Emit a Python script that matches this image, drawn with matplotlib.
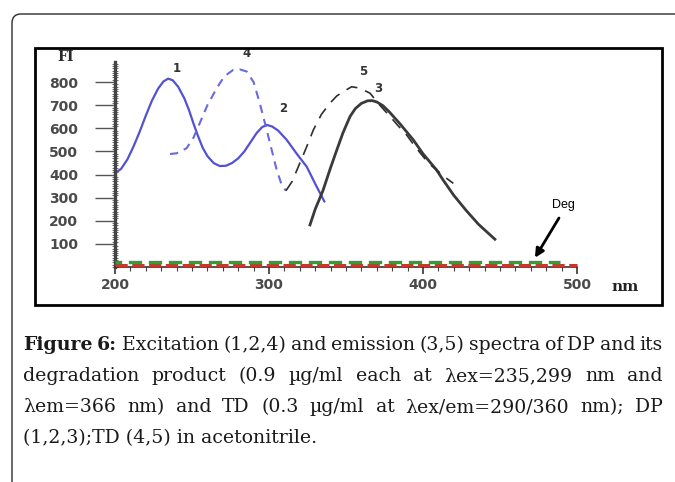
import matplotlib
matplotlib.use('Agg')
import matplotlib.pyplot as plt
from matplotlib.patches import FancyBboxPatch, Rectangle
from matplotlib.ticker import MultipleLocator, FixedLocator
from matplotlib.transforms import IdentityTransform

# ---------------- data ----------------
# 1,2: DP excitation (blue solid)
dp_ex_nm = [200, 204, 208, 212, 216, 220, 224, 228, 231.5, 234.5, 237.5, 241, 245,
            248, 251, 254, 257, 260, 264, 268, 272, 276, 280, 284, 288, 292, 295.5,
            298.5, 302, 306, 311.5, 318, 324.5, 330, 336]
dp_ex_fi = [405, 425, 465, 521, 585, 655, 720, 772, 803, 815, 808, 780, 730,
            680, 620, 565, 515, 480, 450, 437, 438, 450, 470, 500, 540, 580, 605,
            615, 608, 590, 550, 490, 434, 360, 283]
# 4: TD excitation (blue dashed)
td_ex_nm = [235.7, 240, 246.5, 251, 255, 260, 266, 271, 276.8, 281, 285.5, 290, 294,
            298.5, 302, 305, 308, 311]
td_ex_fi = [489, 492, 514, 560, 622, 700, 773, 825, 853, 855, 846, 800, 709,
            593, 500, 420, 360, 330]
# 3: DP emission (black solid)
dp_em_nm = [326.6, 330, 335, 340, 344, 348, 352.6, 356, 360, 364, 367, 370, 374, 378,
            385, 393.7, 400, 408.8, 413, 420, 428, 436, 446.7]
dp_em_fi = [182, 250, 330, 430, 506, 580, 651, 685, 708, 719, 720, 714, 698, 672,
            620, 550, 490, 420, 377, 310, 245, 185, 120]
# 5: TD emission (black dashed)
td_em_nm = [311, 315, 320, 324.5, 328.8, 334, 339.6, 344, 348.3, 353.7, 358, 361.3,
            365.6, 372, 378.6, 384, 389.4, 395, 400.2, 404, 408.8, 414, 419.7]
td_em_fi = [330, 370, 449, 521, 593, 660, 709, 740, 759, 780, 775, 766,
            752, 700, 651, 610, 571, 520, 477, 447, 420, 390, 362]
# degradation product (flat near baseline)
deg_ex_nm = [200, 489]
deg_ex_fi = [22, 22]
deg_em_nm = [200, 500]
deg_em_fi = [10, 10]

x_ticks = [200, 300, 400, 500]
y_ticks = [100, 200, 300, 400, 500, 600, 700, 800]
curve_labels = ['1', '2', '3', '4', '5']
curve_label_pos = [(240, 860), (309, 687), (371, 774), (285.5, 922), (361, 845)]

caption_lines = [
    "Figure 6: Excitation (1,2,4) and emission (3,5) spectra of DP and its",
    "degradation product (0.9 µg/ml each at λex=235,299 nm and",
    "λem=366 nm) and TD (0.3 µg/ml at λex/em=290/360 nm); DP",
    "(1,2,3);TD (4,5) in acetonitrile.",
]

# ---------------- figure ----------------
W, H = 675, 482
fig = plt.figure(figsize=(W / 100, H / 100), dpi=100)
fig.patch.set_facecolor('white')

# outer rounded frame (only top & left visible)
outer = FancyBboxPatch((12, -40), 720, H - 14 + 40,
                       boxstyle="round,pad=0,rounding_size=9",
                       transform=IdentityTransform(), fill=False,
                       edgecolor='#2b2b2b', linewidth=1.0)
fig.add_artist(outer)

# inner chart frame
inner = Rectangle((35, H - 305), 662 - 35, 305 - 48, transform=IdentityTransform(),
                  fill=False, edgecolor='black', linewidth=2.0)
fig.add_artist(inner)

ax = fig.add_axes([115 / W, (H - 267) / H, 462 / W, 205 / H])
ax.set_xlim(200, 500)
ax.set_ylim(0, 887)
ax.patch.set_alpha(0)
for s in ['top', 'right']:
    ax.spines[s].set_visible(False)
ax.spines['left'].set_linewidth(2.4)
ax.spines['left'].set_color('#444444')
ax.spines['bottom'].set_linewidth(1.2)
ax.spines['bottom'].set_color('#333333')

# curves
ax.plot(dp_ex_nm, dp_ex_fi, color='#5252d2', lw=1.6, solid_capstyle='round',
        solid_joinstyle='round')
ax.plot(td_ex_nm, td_ex_fi, color='#6a6ae0', lw=1.5, linestyle=(0, (4, 3)))
ax.plot(dp_em_nm, dp_em_fi, color='#3a3a3a', lw=2.0, solid_joinstyle='round')
ax.plot(td_em_nm, td_em_fi, color='#2e2e2e', lw=1.2, linestyle=(0, (7, 5)))
ax.plot(deg_em_nm, deg_em_fi, color='#c8372d', lw=2.2, linestyle=(0, (4, 1.5)),
        clip_on=False, zorder=5)
ax.plot(deg_ex_nm, deg_ex_fi, color='#30a030', lw=2.4, linestyle=(2, (4, 2)),
        clip_on=False, zorder=5)

# ticks
tick_font = dict(family='DejaVu Sans', weight='bold', size=10)
ax.xaxis.set_major_locator(FixedLocator(x_ticks))
ax.xaxis.set_minor_locator(MultipleLocator(10))
ax.yaxis.set_major_locator(FixedLocator(y_ticks))
ax.yaxis.set_minor_locator(MultipleLocator(10))
ax.set_xticklabels([str(v) for v in x_ticks], fontdict=tick_font, color='#4a4a4a')
ax.set_yticklabels([str(v) for v in y_ticks], fontdict=tick_font, color='#4a4a4a')
ax.tick_params(axis='y', which='major', direction='out', length=14.4, width=1.0,
               color='#555555', pad=12)
ax.tick_params(axis='y', which='minor', direction='inout', length=5, width=0.6,
               color='#555555')
ax.tick_params(axis='x', which='major', direction='out', length=5, width=1.2,
               color='#333333', pad=3)
ax.tick_params(axis='x', which='minor', direction='out', length=3, width=0.8,
               color='#444444')

# curve number labels
for lab, (xv, yv) in zip(curve_labels, curve_label_pos):
    ax.text(xv, yv, lab, ha='center', va='center', fontsize=8.5,
            fontweight='bold', family='DejaVu Sans', color='#333333', clip_on=False)

# axis labels
fig.text(66 / W, 1 - 57 / H, 'FI', ha='center', va='center', fontsize=10,
         fontweight='bold', family='DejaVu Serif', color='#2a2a2a')
fig.text(625 / W, 1 - 287 / H, 'nm', ha='center', va='center', fontsize=11,
         fontweight='bold', family='DejaVu Serif', color='#222222')

# Deg annotation
ax.text(491, 268, 'Deg', ha='center', va='center', fontsize=9,
        family='Liberation Sans', color='black')
ax.annotate('', xy=(472.7, 40), xytext=(488.3, 212),
            arrowprops=dict(arrowstyle='-|>', color='black', lw=2,
                            mutation_scale=13, shrinkA=0, shrinkB=0))

# ---------------- caption (justified) ----------------
fig.canvas.draw()
renderer = fig.canvas.get_renderer()
cap_family = 'DejaVu Serif'
left_px, right_px = 23, 663
baselines = [350, 381, 412, 443]

probe = fig.text(0, 0, caption_lines[3], fontsize=12, family=cap_family,
                 transform=IdentityTransform())
w_probe = probe.get_window_extent(renderer=renderer).width
probe.remove()
fs = 12 * 292 / w_probe

for i, line in enumerate(caption_lines):
    yb = H - baselines[i]
    words = line.split(' ')
    if i == len(caption_lines) - 1:
        fig.text(left_px, yb, line, fontsize=fs, family=cap_family,
                 va='baseline', ha='left', transform=IdentityTransform(),
                 color='#1a1a1a')
        continue
    arts = []
    total = 0
    for j, w in enumerate(words):
        bold = (i == 0 and j < 2)
        t = fig.text(0, yb, w, fontsize=fs, family=cap_family,
                     fontweight='bold' if bold else 'normal',
                     va='baseline', ha='left', transform=IdentityTransform(),
                     color='#1a1a1a')
        wd = t.get_window_extent(renderer=renderer).width
        arts.append((t, wd))
        total += wd
    gap = (right_px - left_px - total) / (len(words) - 1)
    x = left_px
    for t, wd in arts:
        t.set_x(x)
        x += wd + gap

fig.savefig('out.png', dpi=100, facecolor='white')
